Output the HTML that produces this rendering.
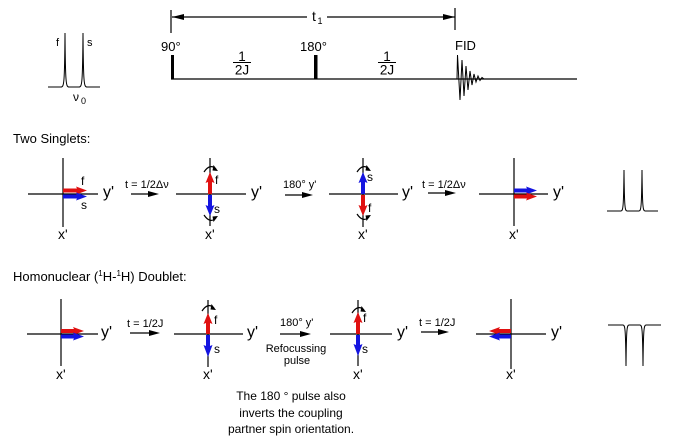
<!DOCTYPE html>
<html><head><meta charset="utf-8">
<style>
html,body{margin:0;padding:0;background:#fff;}
svg{display:block;}
text{font-family:"Liberation Sans",Arial,sans-serif;fill:#000;}
</style></head>
<body>
<svg width="674" height="442" viewBox="0 0 674 442" xmlns="http://www.w3.org/2000/svg">
<defs>
  <g id="curveTop">
    <path d="M-6,6 Q0,-3 6,3" fill="none" stroke="#000" stroke-width="1.2"/>
    <polygon points="3.5,-1 8,5 2.5,4.5" fill="#000"/>
  </g>
  <g id="curveBot">
    <path d="M-6,-6 Q0,3 6,-3" fill="none" stroke="#000" stroke-width="1.2"/>
    <polygon points="3.5,1 8,-5 2.5,-4.5" fill="#000"/>
  </g>
</defs>

<!-- Top-left spectrum -->
<path d="M48,87 L61,87 C64,87 64.6,84 65,33 C65.4,84 66,87 69,87 L79,87 C82,87 82.6,84 83,33 C83.4,84 84,87 87,87 L100,87" fill="none" stroke="#000" stroke-width="1"/>
<text x="56" y="46" font-size="11">f</text>
<text x="87" y="46" font-size="11">s</text>
<text x="73" y="101" font-size="12">ν</text>
<text x="81" y="104" font-size="9">0</text>

<!-- t1 arrow -->
<line x1="171" y1="10" x2="171" y2="33" stroke="#000" stroke-width="1.2"/>
<line x1="455" y1="8" x2="455" y2="30" stroke="#000" stroke-width="1.2"/>
<line x1="172" y1="17" x2="307" y2="17" stroke="#000" stroke-width="1.2"/>
<line x1="327" y1="17" x2="455" y2="17" stroke="#000" stroke-width="1.2"/>
<polygon points="172,17 184,14 184,20" fill="#000"/>
<polygon points="455,17 443,14 443,20" fill="#000"/>
<text x="312" y="21" font-size="14">t</text>
<text x="317.5" y="24" font-size="9">1</text>

<!-- pulse sequence -->
<text x="161" y="51" font-size="13">90°</text>
<text x="300" y="51" font-size="13">180°</text>
<text x="455" y="50" font-size="13">FID</text>
<line x1="171" y1="79" x2="577" y2="79" stroke="#000" stroke-width="1.2"/>
<rect x="171" y="55" width="3" height="24" fill="#000"/>
<rect x="314" y="55" width="3.5" height="24" fill="#000"/>
<text x="242" y="61" font-size="13.5" text-anchor="middle">1</text>
<line x1="233" y1="62.5" x2="251" y2="62.5" stroke="#000" stroke-width="1"/>
<text x="242" y="74.5" font-size="13.5" text-anchor="middle">2J</text>
<text x="387" y="61" font-size="13.5" text-anchor="middle">1</text>
<line x1="378" y1="62.5" x2="396" y2="62.5" stroke="#000" stroke-width="1"/>
<text x="387" y="74.5" font-size="13.5" text-anchor="middle">2J</text>
<path d="M457,79 L457.5,55 L460,100 L462,60 L464,96 L466,66 L468,90 L470,71 L472,85 L474,74 L476,82 L478,76 L480,80.5 L482,77.5 L484,79" fill="none" stroke="#000" stroke-width="1"/>

<!-- Two Singlets -->
<text x="13" y="143" font-size="13">Two Singlets:</text>

<!-- diag 1 -->
<line x1="28" y1="194" x2="98" y2="194" stroke="#000" stroke-width="1.2"/>
<line x1="63" y1="158" x2="63" y2="227" stroke="#000" stroke-width="1.2"/>
<polygon points="63,188.5 77,188.5 76,186.5 87,190.5 76,194.5 77,192.5 63,192.5" fill="#e01010"/>
<polygon points="63,194.5 77,194.5 76,192.5 87,196.5 76,200.5 77,198.5 63,198.5" fill="#1414e0"/>
<text x="81" y="185" font-size="12">f</text>
<text x="81" y="209" font-size="12">s</text>
<text x="103" y="197" font-size="16">y'</text>
<text x="58" y="239" font-size="14">x'</text>

<text x="125" y="188" font-size="11">t = 1/2Δν</text>
<line x1="131" y1="194" x2="150" y2="194" stroke="#000" stroke-width="1.2"/>
<polygon points="159,194 148,191 148,197" fill="#000"/>

<!-- diag 2 -->
<line x1="176" y1="194" x2="246" y2="194" stroke="#000" stroke-width="1.2"/>
<line x1="210" y1="158" x2="210" y2="226" stroke="#000" stroke-width="1.2"/>
<polygon points="208,194 208,182 205.5,183 210,172 214.5,183 212,182 212,194" fill="#e01010"/>
<polygon points="208,195 208,206 205.5,205 210,216 214.5,205 212,206 212,195" fill="#1414e0"/>
<use href="#curveTop" x="210" y="166"/>
<use href="#curveBot" x="210" y="221"/>
<text x="215" y="184" font-size="12">f</text>
<text x="214" y="213" font-size="12">s</text>
<text x="251" y="197" font-size="16">y'</text>
<text x="205" y="239" font-size="14">x'</text>

<text x="283" y="188" font-size="11">180° y'</text>
<line x1="285" y1="195" x2="303" y2="195" stroke="#000" stroke-width="1.2"/>
<polygon points="313,195 302,192 302,198" fill="#000"/>

<!-- diag 3 -->
<line x1="329" y1="194" x2="398" y2="194" stroke="#000" stroke-width="1.2"/>
<line x1="363" y1="158" x2="363" y2="227" stroke="#000" stroke-width="1.2"/>
<polygon points="361,194 361,182 358.5,183 363,172 367.5,183 365,182 365,194" fill="#1414e0"/>
<polygon points="361,195 361,206 358.5,205 363,216 367.5,205 365,206 365,195" fill="#e01010"/>
<use href="#curveTop" x="363" y="166"/>
<use href="#curveBot" x="363" y="220"/>
<text x="367" y="181" font-size="12">s</text>
<text x="368" y="212" font-size="12">f</text>
<text x="402" y="197" font-size="16">y'</text>
<text x="358" y="239" font-size="14">x'</text>

<text x="422" y="188" font-size="11">t = 1/2Δν</text>
<line x1="428" y1="193" x2="447" y2="193" stroke="#000" stroke-width="1.2"/>
<polygon points="456,193 445,190 445,196" fill="#000"/>

<!-- diag 4 -->
<line x1="479" y1="194" x2="548" y2="194" stroke="#000" stroke-width="1.2"/>
<line x1="514" y1="158" x2="514" y2="226" stroke="#000" stroke-width="1.2"/>
<polygon points="514,188.5 527,188.5 526,186.5 537,190.5 526,194.5 527,192.5 514,192.5" fill="#1414e0"/>
<polygon points="514,194.5 527,194.5 526,192.5 537,196.5 526,200.5 527,198.5 514,198.5" fill="#e01010"/>
<text x="553" y="197" font-size="16">y'</text>
<text x="509" y="239" font-size="14">x'</text>

<!-- right spectrum row 1 -->
<path d="M607,211 L621,211 C623,211 623.6,208 624,170 C624.4,208 625,211 627,211 L639,211 C641,211 641.6,208 642,170 C642.4,208 643,211 645,211 L658,211" fill="none" stroke="#000" stroke-width="1"/>

<!-- Homonuclear -->
<text x="13" y="281" font-size="13">Homonuclear (<tspan font-size="8" dy="-5">1</tspan><tspan dy="5">H-</tspan><tspan font-size="8" dy="-5">1</tspan><tspan dy="5">H) Doublet:</tspan></text>

<!-- row2 diag1 -->
<line x1="27" y1="334" x2="98" y2="334" stroke="#000" stroke-width="1.2"/>
<line x1="61" y1="299" x2="61" y2="366" stroke="#000" stroke-width="1.2"/>
<polygon points="61,329 74,329 73,327 84,331 73,335 74,333 61,333" fill="#e01010"/>
<polygon points="61,334.5 74,334.5 73,332.5 84,336.5 73,340.5 74,338.5 61,338.5" fill="#1414e0"/>
<text x="101" y="337" font-size="16">y'</text>
<text x="56" y="379" font-size="14">x'</text>

<text x="127" y="327" font-size="11">t = 1/2J</text>
<line x1="130" y1="333" x2="150" y2="333" stroke="#000" stroke-width="1.2"/>
<polygon points="160,333 149,330 149,336" fill="#000"/>

<!-- row2 diag2 -->
<line x1="174" y1="334" x2="243" y2="334" stroke="#000" stroke-width="1.2"/>
<line x1="208" y1="300" x2="208" y2="367" stroke="#000" stroke-width="1.2"/>
<polygon points="206,334 206,323 203.5,324 208,313 212.5,324 210,323 210,334" fill="#e01010"/>
<polygon points="206,335 206,346 203.5,345 208,357 212.5,345 210,346 210,335" fill="#1414e0"/>
<use href="#curveTop" x="208" y="305"/>
<text x="214" y="324" font-size="12">f</text>
<text x="214" y="353" font-size="12">s</text>
<text x="247" y="337" font-size="16">y'</text>
<text x="203" y="379" font-size="14">x'</text>

<text x="280" y="326" font-size="11">180° y'</text>
<line x1="280" y1="334" x2="301" y2="334" stroke="#000" stroke-width="1.2"/>
<polygon points="311,334 300,331 300,337" fill="#000"/>
<text x="296" y="352" font-size="11" text-anchor="middle">Refocussing</text>
<text x="297" y="364" font-size="11" text-anchor="middle">pulse</text>

<!-- row2 diag3 -->
<line x1="330" y1="334" x2="392" y2="334" stroke="#000" stroke-width="1.2"/>
<line x1="358" y1="300" x2="358" y2="366" stroke="#000" stroke-width="1.2"/>
<polygon points="356,334 356,322 353.5,323 358,312 362.5,323 360,322 360,334" fill="#e01010"/>
<polygon points="356,335 356,345 353.5,344 358,356 362.5,344 360,345 360,335" fill="#1414e0"/>
<use href="#curveTop" x="358" y="307"/>
<text x="363" y="322" font-size="12">f</text>
<text x="362" y="353" font-size="12">s</text>
<text x="397" y="337" font-size="16">y'</text>
<text x="353" y="379" font-size="14">x'</text>

<text x="419" y="326" font-size="11">t = 1/2J</text>
<line x1="421" y1="332" x2="440" y2="332" stroke="#000" stroke-width="1.2"/>
<polygon points="449,332 438,329 438,335" fill="#000"/>

<!-- row2 diag4 -->
<line x1="476" y1="334" x2="546" y2="334" stroke="#000" stroke-width="1.2"/>
<line x1="511" y1="299" x2="511" y2="369" stroke="#000" stroke-width="1.2"/>
<polygon points="511,329 499,329 500,327 489,331 500,335 499,333 511,333" fill="#e01010"/>
<polygon points="511,334.5 499,334.5 500,332.5 489,336.5 500,340.5 499,338.5 511,338.5" fill="#1414e0"/>
<text x="551" y="337" font-size="16">y'</text>
<text x="506" y="379" font-size="14">x'</text>

<!-- right spectrum row 2 (inverted) -->
<path d="M608,325 L623,325 C625,325 625.6,328 626,366 C626.4,328 627,325 629,325 L640,325 C642,325 642.6,328 643,366 C643.4,328 644,325 646,325 L661,325" fill="none" stroke="#000" stroke-width="1"/>

<!-- bottom note -->
<text x="291" y="400" font-size="12" text-anchor="middle">The 180 ° pulse also</text>
<text x="291" y="417" font-size="12" text-anchor="middle">inverts the coupling</text>
<text x="291" y="433" font-size="12" text-anchor="middle">partner spin orientation.</text>
</svg>
</body></html>
